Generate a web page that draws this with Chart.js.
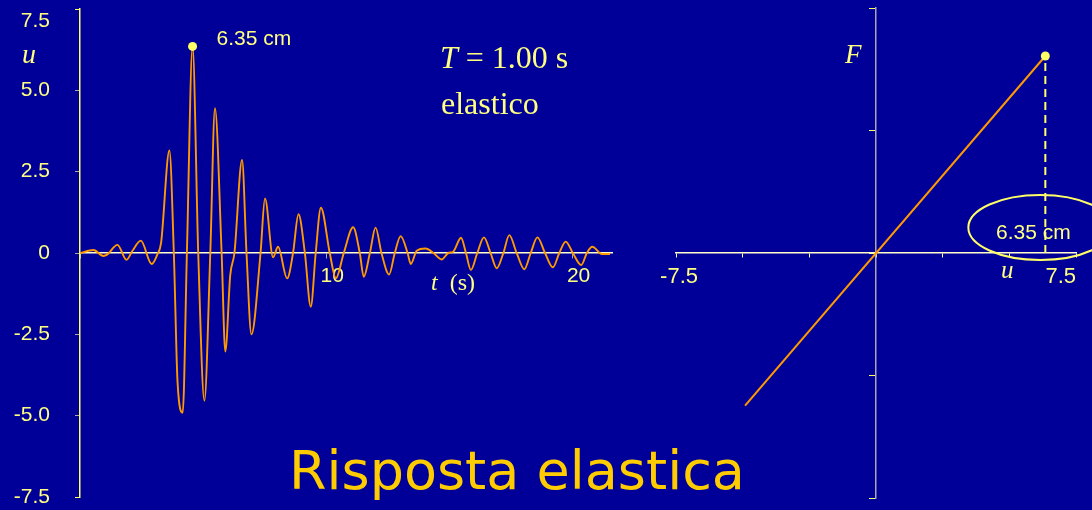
<!DOCTYPE html>
<html>
<head>
<meta charset="utf-8">
<script src="https://cdn.jsdelivr.net/npm/chart.js@4.4.1/dist/chart.umd.min.js"></script>
<style>
  html, body { margin: 0; padding: 0; }
  body { width: 1092px; height: 510px; background: #000099; position: relative; overflow: hidden; }
  canvas { position: absolute; top: 0; }
  #history { left: 0; }
  #force { left: 640px; }
  .lbl { position: absolute; line-height: 1; white-space: nowrap; color: #ffff80;
         font-family: "Liberation Serif", "Times New Roman", serif; }
  .it { font-style: italic; }
  #title { font-family: "Comic Sans MS", "DejaVu Sans", sans-serif; color: #ffcc00;
           font-size: 54px; left: 289px; top: 444px; }
</style>
</head>
<body>
<canvas id="history" width="640" height="510"></canvas>
<canvas id="force" width="452" height="510"></canvas>

<div class="lbl it" style="left:22px;top:40px;font-size:28px">u</div>
<div class="lbl" style="left:440px;top:41px;font-size:32px"><span class="it">T</span> = 1.00 s</div>
<div class="lbl" style="left:441px;top:87px;font-size:32px">elastico</div>
<div class="lbl" style="left:431px;top:270px;font-size:24px"><span class="it">t</span>&nbsp;&nbsp;(s)</div>
<div class="lbl it" style="left:845px;top:41px;font-size:27px">F</div>
<div class="lbl it" style="left:1001px;top:257px;font-size:25px">u</div>
<div class="lbl" id="title">Risposta elastica</div>

<script>
// time history of the displacement u(t) [cm], t [s]
const tValues = [
  0.00, 0.55, 0.95, 1.10, 1.52, 1.89, 2.13, 2.47, 2.91, 3.15,
  3.29, 3.63, 3.81, 3.96, 4.17, 4.34, 4.57, 4.80, 5.05, 5.29,
  5.48, 5.75, 5.90, 6.10, 6.27, 6.58, 6.76, 6.96, 7.33, 7.51,
  7.84, 8.04, 8.41, 8.65, 8.87, 9.13, 9.37, 9.57, 9.78, 10.14,
  10.39, 10.71, 11.09, 11.36, 11.52, 11.77, 12.00, 12.24, 12.55, 12.78,
  13.02, 13.30, 13.43, 13.67, 14.03, 14.34, 14.68, 14.95, 15.15, 15.47,
  15.67, 15.87, 16.13, 16.40, 16.67, 16.92, 17.19, 17.43, 17.73, 18.04,
  18.30, 18.57, 18.88, 19.20, 19.46, 19.72, 20.01, 20.35, 20.58, 20.80,
  21.19, 21.52
];
const uValues = [
  0.00, 0.09, -0.09, -0.05, 0.25, -0.21, 0.07, 0.38, -0.34, -0.03,
  0.30, 3.15, 0.00, -3.96, -4.91, 0.00, 6.35, 0.00, -4.54, 0.00,
  4.45, 0.00, -3.03, -0.68, 0.00, 2.86, 0.00, -2.50, 0.00, 1.68,
  -0.13, 0.19, -0.78, 0.00, 1.19, 0.00, -1.65, 0.00, 1.39, 0.00,
  -0.78, 0.00, 0.79, 0.00, -0.73, 0.00, 0.78, 0.00, -0.66, 0.00,
  0.52, 0.00, -0.34, 0.07, 0.14, 0.01, -0.20, 0.00, 0.04, 0.47,
  0.00, -0.52, 0.00, 0.48, 0.00, -0.47, 0.00, 0.55, 0.00, -0.50,
  0.00, 0.48, 0.00, -0.44, 0.00, 0.35, 0.00, -0.37, 0.00, 0.19,
  -0.03, -0.03
];
const uTicks = [-7.5, -5, -2.5, 0, 2.5, 5, 7.5];
const tTicks = [0, 10, 20];
const tMax = 21.6;

// peak displacement
const tPeak = 4.57;
const uPeak = 6.35;

// force-displacement branch (normalised force)
const uBranch = [-4.91, 6.35];
const fBranch = [-0.623, 0.804];
const fPeak = 0.804;
const fTicks = [-1, -0.5, 0, 0.5, 1];

const COLORS = {
  curve: '#ff9900',
  text: '#ffff80',
  axis: '#ffff66',
  pale: '#ffffcc',
  grey: '#a8a8a8'
};
const SANS = '"Liberation Sans", Arial, sans-serif';

Chart.defaults.font.family = SANS;
Chart.defaults.color = COLORS.text;

function setTicks(values) {
  return function (scale) {
    scale.ticks = values.map(v => ({ value: v }));
  };
}

// fixed axis box size, no extra padding from the tick labels
function fixSize(w, h) {
  return function (scale) {
    if (w !== null) scale.width = w;
    if (h !== null) scale.height = h;
    scale.paddingTop = scale.paddingBottom = 0;
    scale.paddingLeft = scale.paddingRight = 0;
  };
}

// "6.35 cm" next to the peak marker
const peakLabel = {
  id: 'peakLabel',
  afterDatasetsDraw(chart) {
    const { ctx, scales: { x, y } } = chart;
    const px = x.getPixelForValue(tPeak);
    const py = y.getPixelForValue(uPeak);
    ctx.save();
    ctx.font = '21px ' + SANS;
    ctx.fillStyle = COLORS.text;
    ctx.textBaseline = 'alphabetic';
    ctx.fillText(uPeak.toFixed(2) + ' cm', px + 24, py - 1);
    ctx.restore();
  }
};

// ellipse with the peak value on the u axis
const peakEllipse = {
  id: 'peakEllipse',
  afterDatasetsDraw(chart) {
    const { ctx, scales: { x, y } } = chart;
    const px = x.getPixelForValue(uPeak);
    const py0 = y.getPixelForValue(0);
    ctx.save();
    ctx.strokeStyle = COLORS.axis;
    ctx.lineWidth = 2;
    ctx.beginPath();
    ctx.ellipse(px - 5, py0 - 25.5, 72, 32.5, 0, 0, Math.PI * 2);
    ctx.stroke();
    ctx.font = '21px ' + SANS;
    ctx.fillStyle = COLORS.text;
    ctx.textAlign = 'center';
    ctx.textBaseline = 'alphabetic';
    ctx.fillText(uPeak.toFixed(2) + ' cm', px - 12, py0 - 14);
    ctx.restore();
  }
};

var historyChart = new Chart(document.getElementById('history'), {
  type: 'line',
  data: {
    datasets: [{
      data: [{ x: tPeak, y: uPeak }],
      showLine: false,
      pointRadius: 4.5,
      pointBackgroundColor: COLORS.axis,
      pointBorderWidth: 0
    }, {
      data: tValues.map((t, i) => ({ x: t, y: uValues[i] })),
      borderColor: COLORS.curve,
      borderWidth: 1.9,
      pointRadius: 0,
      cubicInterpolationMode: 'monotone'
    }]
  },
  options: {
    responsive: false,
    animation: false,
    layout: { padding: { left: 0, right: 28, top: 9, bottom: 13 } },
    plugins: { legend: { display: false }, tooltip: { enabled: false } },
    scales: {
      x: {
        type: 'linear',
        min: 0,
        max: tMax,
        position: { y: 0 },
        afterFit: fixSize(null, 0),
        afterBuildTicks: setTicks(tTicks),
        grid: { drawOnChartArea: false, tickLength: 5, color: COLORS.grey },
        border: { color: COLORS.pale, width: 1.5 },
        ticks: {
          font: { size: 21 },
          padding: 6,
          labelOffset: 6,
          maxRotation: 0,
          callback: v => v === 0 ? '' : String(v)
        }
      },
      y: {
        type: 'linear',
        min: -7.5,
        max: 7.5,
        position: 'left',
        afterFit: fixSize(80, null),
        afterBuildTicks: setTicks(uTicks),
        grid: {
          drawOnChartArea: false,
          tickLength: 5,
          color: c => (c.tick && Math.abs(c.tick.value) === 7.5) ? COLORS.axis : COLORS.grey
        },
        border: { color: COLORS.axis, width: 1.5 },
        ticks: {
          font: { size: 21 },
          padding: 25,
          callback: v => v === 7.5 ? ['', '7.5'] : (v === 0 ? '0' : v.toFixed(1))
        }
      }
    }
  },
  plugins: [peakLabel]
});

var forceChart = new Chart(document.getElementById('force'), {
  type: 'line',
  data: {
    datasets: [{
      data: [{ x: uPeak, y: fPeak }],
      showLine: false,
      pointRadius: 4.5,
      pointBackgroundColor: COLORS.axis,
      pointBorderWidth: 0
    }, {
      data: [{ x: uPeak, y: 0 }, { x: uPeak, y: fPeak }],
      borderColor: COLORS.axis,
      borderWidth: 2,
      borderDash: [8, 5],
      pointRadius: 0
    }, {
      data: uBranch.map((u, i) => ({ x: u, y: fBranch[i] })),
      borderColor: COLORS.curve,
      borderWidth: 2,
      pointRadius: 0
    }]
  },
  options: {
    responsive: false,
    animation: false,
    layout: { padding: { left: 36, right: 16, top: 8, bottom: 12 } },
    plugins: { legend: { display: false }, tooltip: { enabled: false } },
    scales: {
      x: {
        type: 'linear',
        min: -7.5,
        max: 7.5,
        position: { y: 0 },
        afterFit: fixSize(null, 0),
        afterBuildTicks: setTicks(uTicks),
        grid: { drawOnChartArea: false, tickLength: 4, color: COLORS.pale },
        border: { color: COLORS.pale, width: 1.5 },
        ticks: {
          font: { size: 22 },
          padding: 7,
          maxRotation: 0,
          callback: v => v === -7.5 ? ' -7.5' : (v === 7.5 ? '7.5     ' : '')
        }
      },
      y: {
        type: 'linear',
        min: -1,
        max: 1,
        position: { x: 0 },
        afterFit: fixSize(0, null),
        afterBuildTicks: setTicks(fTicks),
        grid: { drawOnChartArea: false, tickLength: 6, color: COLORS.axis },
        border: { color: COLORS.grey, width: 1.5 },
        ticks: { display: false }
      }
    }
  },
  plugins: [peakEllipse]
});
</script>
</body>
</html>
